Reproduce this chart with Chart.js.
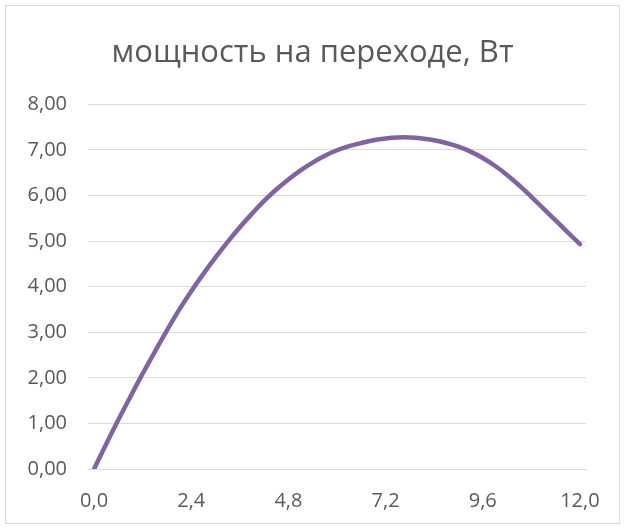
<!DOCTYPE html>
<html>
<head>
<meta charset="utf-8">
<script src="https://cdn.jsdelivr.net/npm/chart.js@4"></script>
<style>
  body { margin: 0; background: #fff; }
  #wrap { width: 625px; height: 529px; }
</style>
</head>
<body>
<div id="wrap"><canvas id="powerChart" width="625" height="529"></canvas></div>
<script>
// x values (category labels), step 0.3
const xLabels = ['0,0','0,3','0,6','0,9','1,2','1,5','1,8','2,1','2,4','2,7','3,0','3,3','3,6','3,9','4,2','4,5','4,8','5,1','5,4','5,7','6,0','6,3','6,6','6,9','7,2','7,5','7,8','8,1','8,4','8,7','9,0','9,3','9,6','9,9','10,2','10,5','10,8','11,1','11,4','11,7','12,0'];

// мощность, Вт
const powerValues = [0, 0.55, 1.08, 1.59, 2.09, 2.57, 3.04, 3.49, 3.90, 4.28, 4.64, 4.98, 5.30, 5.60, 5.88, 6.13, 6.35, 6.55, 6.72, 6.87, 6.99, 7.08, 7.15, 7.21, 7.25, 7.27, 7.27, 7.25, 7.21, 7.15, 7.07, 6.96, 6.82, 6.65, 6.45, 6.22, 5.97, 5.71, 5.45, 5.19, 4.93];

const yTicks = [0, 1, 2, 3, 4, 5, 6, 7, 8];

const chartTitle = 'мощность на переходе, Вт';

const fontFamily = '"Open Sans", Lato, sans-serif';
const textColor = '#595959';
const gridColor = '#d9d9d9';

// light frame around the whole chart, like Excel's chart border
const framePlugin = {
    id: 'frame',
    beforeDraw(chart) {
        const ctx = chart.ctx;
        ctx.save();
        ctx.fillStyle = '#fff';
        ctx.fillRect(0, 0, chart.width, chart.height);
        ctx.strokeStyle = gridColor;
        ctx.lineWidth = 1;
        ctx.strokeRect(5.5, 5.5, 614, 518);
        ctx.restore();
    }
};

const ctx = document.getElementById('powerChart').getContext('2d');
new Chart(ctx, {
    type: 'line',
    data: {
        labels: xLabels,
        datasets: [{
            label: chartTitle,
            data: powerValues,
            borderColor: '#8064a2',
            borderWidth: 4.5,
            borderCapStyle: 'round',
            borderJoinStyle: 'round',
            pointRadius: 0,
            tension: 0.4,
            fill: false
        }]
    },
    options: {
        responsive: false,
        animation: false,
        layout: { padding: 0 },
        plugins: {
            legend: { display: false },
            tooltip: { enabled: false },
            title: {
                display: true,
                text: chartTitle,
                color: textColor,
                font: { family: fontFamily, size: 31, weight: 'normal' },
                padding: { top: 35, bottom: 32 }
            }
        },
        scales: {
            x: {
                offset: true,
                grid: { display: false, drawTicks: false },
                border: { display: false },
                ticks: {
                    autoSkip: false,
                    maxRotation: 0,
                    padding: 20,
                    color: textColor,
                    font: { family: fontFamily, size: 20 },
                    callback: function (value, index) {
                        return index % 8 === 0 ? xLabels[index] : null;
                    }
                },
                afterFit: function (scale) { scale.height = 60; }
            },
            y: {
                min: yTicks[0],
                max: yTicks[yTicks.length - 1],
                grid: { color: gridColor, lineWidth: 1, drawTicks: false },
                border: { display: false },
                ticks: {
                    stepSize: 1,
                    padding: 21,
                    color: textColor,
                    font: { family: fontFamily, size: 20 },
                    callback: function (value) {
                        return value.toFixed(2).replace('.', ',');
                    }
                },
                afterFit: function (scale) { scale.width = 88; }
            },
            // empty right-hand margin so the title stays centred on the whole chart
            yRight: {
                position: 'right',
                grid: { display: false, drawTicks: false },
                border: { display: false },
                ticks: { display: false },
                afterFit: function (scale) { scale.width = 39; }
            }
        }
    },
    plugins: [framePlugin]
});
</script>
</body>
</html>
